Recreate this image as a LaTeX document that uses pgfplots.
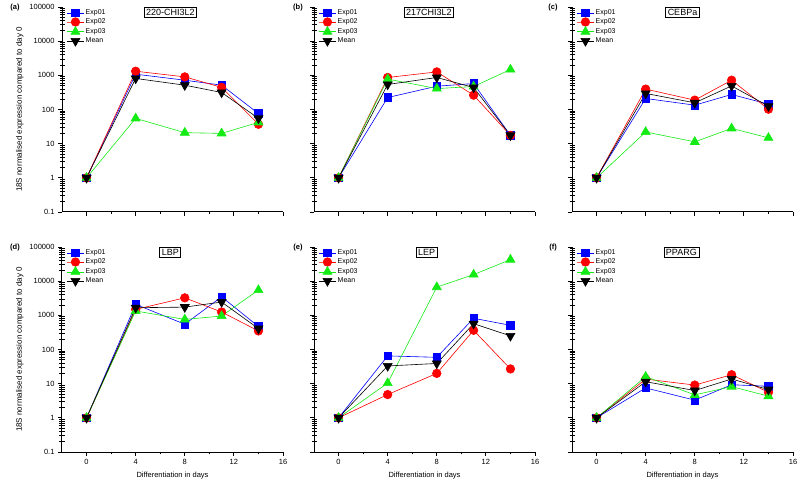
\documentclass[border=0pt]{standalone}
\usepackage{fontspec}
\setmainfont{Liberation Sans}
\usepackage{pgfplots}
\usepackage{pgfplotstable}
\pgfplotsset{compat=1.18}

\definecolor{cblue}{RGB}{0,0,255}
\definecolor{cred}{RGB}{255,0,0}
\definecolor{cgreen}{RGB}{20,235,20}

% day  Exp01  Exp02  Exp03  Mean
\pgfplotstableread{
day e1 e2 e3 mean
0 1 1 1 1
4 1080 1320 55 810
8 720 900 21 515
11 515 445 20 315
14 76 37 42 55
}\tabA
\pgfplotstableread{
day e1 e2 e3 mean
0 1 1 1 1
4 224 865 775 540
8 480 1260 410 865
11 575 263 470 440
14 17.5 17.5 1480 17.5
}\tabB
\pgfplotstableread{
day e1 e2 e3 mean
0 1 1 1 1
4 210 395 22 295
8 134 188 11.3 157
11 275 720 28 490
14 143 102 14.8 125
}\tabC
\pgfplotstableread{
day e1 e2 e3 mean
0 1 1 1 1
4 2090 1490 1340 1670
8 550 3250 760 1740
11 3490 1250 955 2450
14 470 350 5500 410
}\tabD
\pgfplotstableread{
day e1 e2 e3 mean
0 1 1 1 1
4 65 4.8 10.4 33
8 59 20 6700 39
11 820 365 15600 570
14 510 27 42700 250
}\tabE
\pgfplotstableread{
day e1 e2 e3 mean
0 1 1 1 1
4 7.5 13.6 16 11.4
8 3.3 9.1 4.7 6.3
11 9.3 18.3 8.2 13.7
14 8.4 5.6 4.3 6.7
}\tabF

\pgfplotsset{
  scale only axis, width=221pt, height=205pt,
  ymin=0.1, ymax=100000,
  ytick={0.1,1,10,100,1000,10000,100000},
  yticklabels={0.1,1,10,100,1000,10000,100000},
  % minor decade ticks, drawn inward as in the original
  extra y ticks={0.2,0.3,0.4,0.5,0.6,0.7,0.8,0.9,
    2,3,4,5,6,7,8,9,20,30,40,50,60,70,80,90,
    200,300,400,500,600,700,800,900,2000,3000,4000,5000,6000,7000,8000,9000,
    20000,30000,40000,50000,60000,70000,80000,90000},
  extra y tick labels={},
  extra y tick style={tick align=inside, major tick length=2.5pt},
  xmin=-2, xmax=16, xtick={0,4,8,12,16}, minor x tick num=1,
  axis x line*=bottom, axis y line*=left,
  axis line style={line width=1pt,-},
  tick align=outside,
  major tick length=4pt, minor tick length=2.5pt,
  tick style={black, line width=0.8pt},
  tick label style={font=\fontsize{7.5}{9}\selectfont},
  xlabel style={font=\fontsize{7.5}{9}\selectfont},
  ylabel style={font=\fontsize{8}{9}\selectfont},
  ylabel shift=-5pt,
  clip=false,
  legend cell align=left,
  legend style={draw=none, fill=none, at={(0.02,0.995)}, anchor=north west,
    font=\fontsize{7}{8}\selectfont, inner sep=0pt, row sep=0pt,
    nodes={inner sep=1.4pt}},
  /pgf/number format/1000 sep={},
  /pgf/number format/assume math mode=true,
}

\newcommand{\fourplots}[1]{%
  \addplot[color=cblue, line width=0.6pt, mark=square*, mark size=3.8pt] table[x=day,y=e1] {#1};
  \addplot[color=cred, line width=0.6pt, mark=*, mark size=4.3pt] table[x=day,y=e2] {#1};
  \addplot[color=cgreen, line width=0.6pt, mark=triangle*, mark size=5.2pt] table[x=day,y=e3] {#1};
  \addplot[color=black, line width=0.6pt, mark=triangle*, mark size=5.2pt, mark options={rotate=180}] table[x=day,y=mean] {#1};
  \legend{Exp01,Exp02,Exp03,Mean}}

\begin{document}
\begin{tikzpicture}
\useasboundingbox (0,0) rectangle (800pt,490pt);

% top row
\begin{semilogyaxis}[xticklabels={}, at={(62pt,278pt)}, anchor=south west,
  ylabel={18S normalised expression compared to day 0}]
  \fourplots{\tabA}
  \node[draw, line width=0.6pt, inner sep=2pt, font=\fontsize{9}{10}\selectfont]
    at (axis description cs:0.49,0.973) {220-CHI3L2};
  \node[font=\bfseries\fontsize{7.5}{9}\selectfont, xshift=-47pt]
    at (axis description cs:0,0.995) {(a)};
\end{semilogyaxis}
\begin{semilogyaxis}[xticklabels={}, yticklabels={}, at={(314pt,278pt)}, anchor=south west]
  \fourplots{\tabB}
  \node[draw, line width=0.6pt, inner sep=2pt, font=\fontsize{9}{10}\selectfont]
    at (axis description cs:0.52,0.973) {217CHI3L2};
  \node[font=\bfseries\fontsize{7.5}{9}\selectfont, xshift=-16pt]
    at (axis description cs:0,0.995) {(b)};
\end{semilogyaxis}
\begin{semilogyaxis}[xticklabels={}, yticklabels={}, at={(572pt,278pt)}, anchor=south west]
  \fourplots{\tabC}
  \node[draw, line width=0.6pt, inner sep=2pt, font=\fontsize{9}{10}\selectfont]
    at (axis description cs:0.50,0.973) {CEBPa};
  \node[font=\bfseries\fontsize{7.5}{9}\selectfont, xshift=-19pt]
    at (axis description cs:0,0.995) {(c)};
\end{semilogyaxis}

% bottom row
\begin{semilogyaxis}[at={(62pt,38pt)}, anchor=south west,
  ylabel={18S normalised expression compared to day 0},
  xlabel={Differentiation in days}]
  \fourplots{\tabD}
  \node[draw, line width=0.6pt, inner sep=2pt, font=\fontsize{9}{10}\selectfont]
    at (axis description cs:0.49,0.973) {LBP};
  \node[font=\bfseries\fontsize{7.5}{9}\selectfont, xshift=-47pt]
    at (axis description cs:0,0.995) {(d)};
\end{semilogyaxis}
\begin{semilogyaxis}[yticklabels={}, at={(314pt,38pt)}, anchor=south west,
  xlabel={Differentiation in days}]
  \fourplots{\tabE}
  \node[draw, line width=0.6pt, inner sep=2pt, font=\fontsize{9}{10}\selectfont]
    at (axis description cs:0.51,0.973) {LEP};
  \node[font=\bfseries\fontsize{7.5}{9}\selectfont, xshift=-16pt]
    at (axis description cs:0,0.995) {(e)};
\end{semilogyaxis}
\begin{semilogyaxis}[yticklabels={}, at={(572pt,38pt)}, anchor=south west,
  xlabel={Differentiation in days}]
  \fourplots{\tabF}
  \node[draw, line width=0.6pt, inner sep=2pt, font=\fontsize{9}{10}\selectfont]
    at (axis description cs:0.495,0.973) {PPARG};
  \node[font=\bfseries\fontsize{7.5}{9}\selectfont, xshift=-19pt]
    at (axis description cs:0,0.995) {(f)};
\end{semilogyaxis}
\end{tikzpicture}
\end{document}
